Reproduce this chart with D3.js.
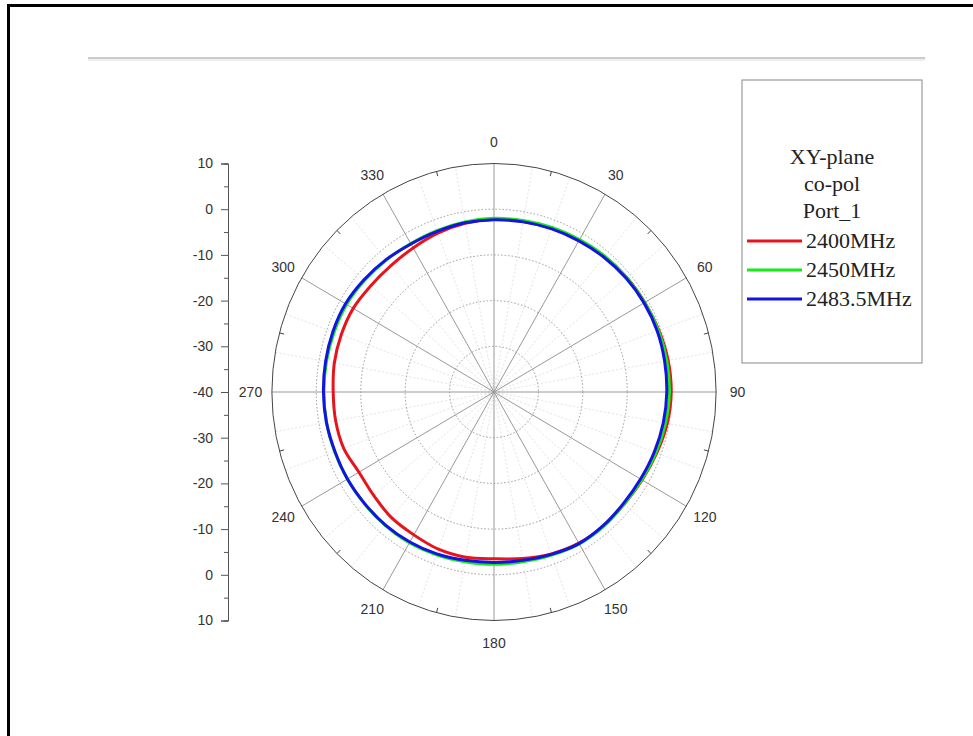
<!DOCTYPE html>
<html>
<head>
<meta charset="utf-8">
<script src="https://cdn.jsdelivr.net/npm/d3@7"></script>
<style>
  body { margin: 0; background: #fff; }
  .tick-label { font-family: "Liberation Sans", Arial, sans-serif; font-size: 14px; fill: #333; }
  .legend-text { font-family: "Liberation Serif", "Times New Roman", serif; font-size: 22px; fill: #222; }
</style>
</head>
<body>
<div id="chart"></div>
<script>
// angles in degrees, gain in dB
const angles = [0, 10, 20, 30, 40, 50, 60, 70, 80, 90, 100, 110, 120, 130, 140, 150, 160, 170,
                180, 190, 200, 210, 220, 230, 240, 250, 260, 270, 280, 290, 300, 310, 320, 330, 340, 350];
const red2400 = [-2.2, -2.1, -1.9, -1.6, -1.3, -1.0, -0.8, -0.5, -0.2, -0.1, -0.4, -1.0, -1.5, -1.8, -1.7, -1.8, -2.3, -3.0,
                 -3.5, -3.3, -3.4, -3.9, -4.1, -4.7, -4.9, -4.0, -3.8, -3.8, -3.5, -3.4, -3.4, -3.8, -3.9, -3.6, -3.0, -2.5];
const green2450 = [-2.0, -1.9, -1.7, -1.5, -1.2, -1.0, -0.8, -0.6, -0.5, -0.5, -0.8, -1.2, -1.6, -1.8, -1.6, -1.6, -2.0, -2.3,
                   -2.3, -2.3, -2.1, -1.9, -1.9, -1.9, -1.9, -1.8, -1.7, -1.7, -1.7, -1.7, -1.7, -2.0, -2.3, -2.5, -2.4, -2.2];
const blue2483 = [-2.3, -2.2, -2.0, -1.8, -1.5, -1.2, -1.0, -0.9, -1.0, -1.1, -1.3, -1.6, -1.9, -2.0, -1.8, -1.7, -2.2, -2.6,
                  -2.7, -2.6, -2.3, -2.1, -2.0, -2.0, -1.9, -1.9, -1.7, -1.6, -1.5, -1.4, -1.4, -1.8, -2.2, -2.6, -2.6, -2.4];

const series = [
  { name: "2400MHz", color: "#e8141c", values: red2400 },
  { name: "2450MHz", color: "#18e81c", values: green2450 },
  { name: "2483.5MHz", color: "#1414e0", values: blue2483 }
];
const legendTitle = ["XY-plane", "co-pol", "Port_1"];
const rTicks = [10, 0, -10, -20, -30, -40];
const angleTicks = [0, 30, 60, 90, 120, 150, 180, 210, 240, 270, 300, 330];

const width = 973, height = 736;
const cx = 494, cy = 392;
const kx = 0.972; // plot is a little narrower than tall
const outerR = 228.5;

const svg = d3.select("#chart")
  .append("svg")
  .attr("width", width)
  .attr("height", height);

// frame: top and left black border, grey rule
svg.append("rect").attr("x", 7).attr("y", 4).attr("width", width - 7).attr("height", 3).attr("fill", "#000");
svg.append("rect").attr("x", 7).attr("y", 4).attr("width", 3).attr("height", height - 4).attr("fill", "#000");
svg.append("line").attr("x1", 88).attr("x2", 925).attr("y1", 58).attr("y2", 58)
  .attr("stroke", "#bbb").attr("stroke-width", 1.5);
svg.append("line").attr("x1", 88).attr("x2", 925).attr("y1", 60).attr("y2", 60)
  .attr("stroke", "#eee").attr("stroke-width", 2);

const rScale = d3.scaleLinear().domain([-40, 10]).range([0, outerR]);
const toXY = (deg, r) => {
  const a = deg * Math.PI / 180;
  return [cx + kx * r * Math.sin(a), cy - r * Math.cos(a)];
};

const polar = svg.append("g");

// faint minor spokes
const minorSpokes = d3.range(0, 360, 10).filter(d => d % 30 !== 0);
polar.selectAll("line.minor")
  .data(minorSpokes)
  .join("line")
  .attr("class", "minor")
  .attr("x1", cx).attr("y1", cy)
  .attr("x2", d => toXY(d, outerR)[0])
  .attr("y2", d => toXY(d, outerR)[1])
  .attr("stroke", "#e4e4e4")
  .attr("stroke-dasharray", "2,2")
  .attr("stroke-width", 1);

// dotted rings
polar.selectAll("ellipse.ring")
  .data([0, -10, -20, -30])
  .join("ellipse")
  .attr("class", "ring")
  .attr("cx", cx).attr("cy", cy)
  .attr("rx", d => rScale(d) * kx)
  .attr("ry", d => rScale(d))
  .attr("fill", "none")
  .attr("stroke", "#999")
  .attr("stroke-dasharray", "1.5,2")
  .attr("stroke-width", 1);

// major spokes
polar.selectAll("line.major")
  .data(angleTicks)
  .join("line")
  .attr("class", "major")
  .attr("x1", cx).attr("y1", cy)
  .attr("x2", d => toXY(d, outerR)[0])
  .attr("y2", d => toXY(d, outerR)[1])
  .attr("stroke", "#999")
  .attr("stroke-width", 1);

// outer ring
polar.append("ellipse")
  .attr("cx", cx).attr("cy", cy)
  .attr("rx", outerR * kx).attr("ry", outerR)
  .attr("fill", "none")
  .attr("stroke", "#444")
  .attr("stroke-width", 1);

// small ticks on outer ring between the spokes
polar.selectAll("line.ringtick")
  .data(d3.range(15, 360, 30))
  .join("line")
  .attr("class", "ringtick")
  .attr("x1", d => toXY(d, outerR)[0])
  .attr("y1", d => toXY(d, outerR)[1])
  .attr("x2", d => toXY(d, outerR - 5)[0])
  .attr("y2", d => toXY(d, outerR - 5)[1])
  .attr("stroke", "#444");

// angle labels
polar.selectAll("text.angle")
  .data(angleTicks)
  .join("text")
  .attr("class", "tick-label angle")
  .attr("x", d => toXY(d, outerR + 22)[0])
  .attr("y", d => toXY(d, outerR + 22)[1])
  .attr("text-anchor", "middle")
  .attr("dominant-baseline", "central")
  .text(d => d);

// pattern curves
const line = d3.line()
  .x(d => toXY(d[0], rScale(d[1]))[0])
  .y(d => toXY(d[0], rScale(d[1]))[1])
  .curve(d3.curveCatmullRomClosed);

polar.selectAll("path.trace")
  .data(series)
  .join("path")
  .attr("class", "trace")
  .attr("d", s => line(angles.map((a, i) => [a, s.values[i]])))
  .attr("fill", "none")
  .attr("stroke", s => s.color)
  .attr("stroke-width", 3);

// radial axis on the left, mirrored above and below -40
const axisX = 228;
const yUp = d3.scaleLinear().domain([-40, 10]).range([cy, cy - outerR]);
const yDown = d3.scaleLinear().domain([-40, 10]).range([cy, cy + outerR]);

[yUp, yDown].forEach((sc, k) => {
  const g = svg.append("g").attr("transform", `translate(${axisX},0)`);
  g.call(d3.axisLeft(sc).tickValues(d3.range(-35, 10, 10)).tickSize(4).tickFormat(""));
  const major = g.append("g");
  major.call(d3.axisLeft(sc)
    .tickValues(k === 0 ? rTicks : rTicks.filter(t => t !== -40))
    .tickFormat(d => String(d))
    .tickSize(7).tickPadding(8));
  g.selectAll("path.domain").attr("stroke", "#555");
  g.selectAll(".tick line").attr("stroke", "#555");
  major.selectAll("text").attr("class", "tick-label").attr("fill", null);
});

// legend
const legend = svg.append("g").attr("transform", "translate(742,80)");
legend.append("rect")
  .attr("width", 180).attr("height", 283)
  .attr("fill", "#fff")
  .attr("stroke", "#888");
legendTitle.forEach((t, i) => {
  legend.append("text")
    .attr("class", "legend-text")
    .attr("x", 90)
    .attr("y", 84 + i * 27)
    .attr("text-anchor", "middle")
    .text(t);
});
series.forEach((s, i) => {
  const g = legend.append("g").attr("transform", `translate(5, ${161 + i * 29})`);
  g.append("line").attr("x1", 0).attr("x2", 55).attr("y1", 0).attr("y2", 0)
    .attr("stroke", s.color).attr("stroke-width", 3);
  g.append("text").attr("class", "legend-text").attr("x", 59).attr("y", 7).text(s.name);
});
</script>
</body>
</html>
